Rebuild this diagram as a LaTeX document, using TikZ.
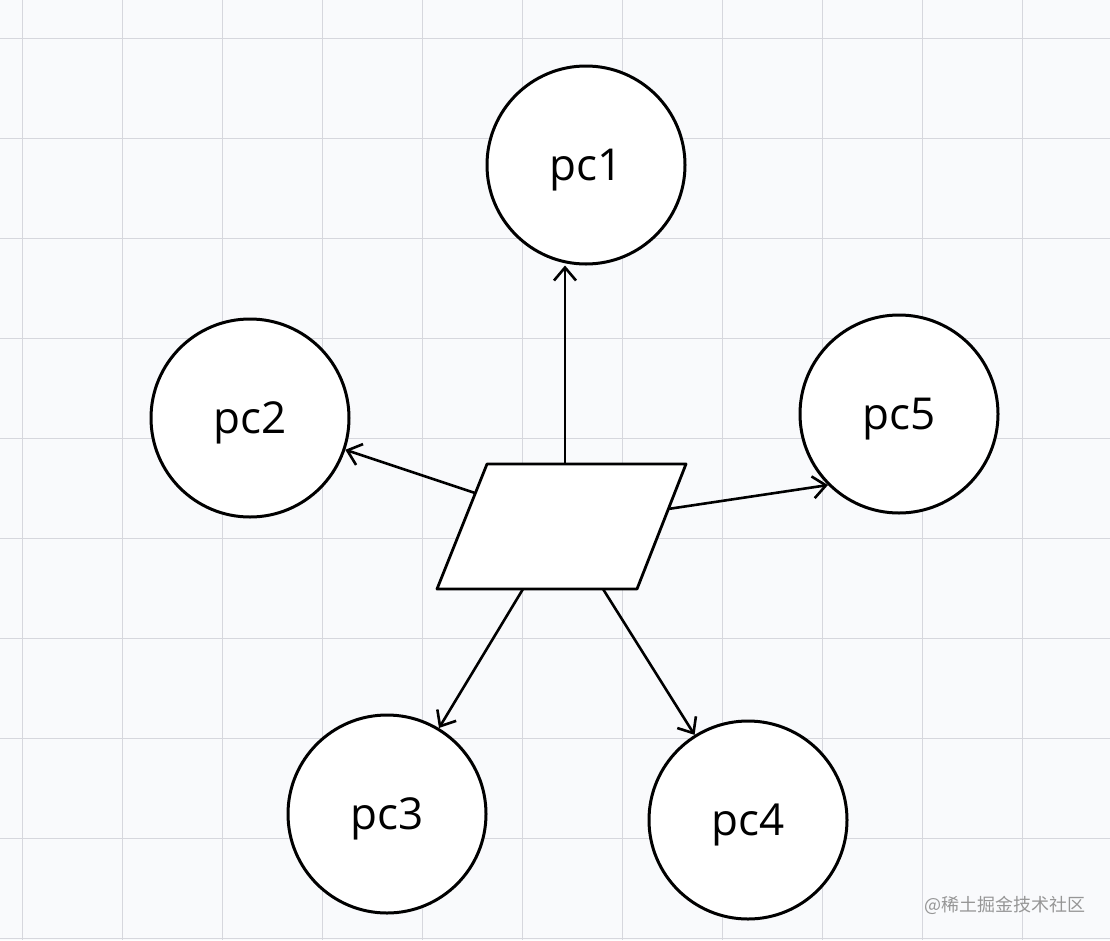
\documentclass[tikz,border=0pt]{standalone}
\usepackage{fontspec}
\setmainfont{Open Sans}
\newfontfamily\cjk{Noto Sans CJK SC}
\usetikzlibrary{arrows.meta}
\definecolor{bgc}{RGB}{249,250,252}
\definecolor{gridc}{RGB}{214,215,221}
\definecolor{wmc}{RGB}{150,150,150}
\tikzset{
  pcnode/.style={circle, draw=black, line width=3pt, fill=white, minimum size=198pt, inner sep=0pt},
  pclabel/.style={font=\fontsize{44}{44}\selectfont, inner sep=0pt},
  conn/.style={line width=2.6pt, -{Straight Barb[length=13pt,width=22pt,line width=2.6pt]}},
  shapeline/.style={line width=2.8pt, line join=round, fill=white}
}
\begin{document}
\begin{tikzpicture}[x=1pt,y=-1pt]
\fill[bgc] (0,0) rectangle (1110,940);
\useasboundingbox (0,0) rectangle (1110,940);
% grid
\foreach \x in {22,122,...,1022} \draw[gridc, line width=1pt] (\x,0) -- (\x,940);
\foreach \y in {38,138,...,938} \draw[gridc, line width=1pt] (0,\y) -- (1110,\y);

% nodes
\node[pcnode] (pc1) at (586,165) {};
\node[pcnode] (pc2) at (250,418) {};
\node[pcnode] (pc5) at (899,414) {};
\node[pcnode] (pc3) at (387,814) {};
\node[pcnode] (pc4) at (748,820) {};
\node[pclabel] (t1) at ([yshift=-5pt]pc1.center) {pc1};
\node[pclabel] (t2) at ([yshift=-5pt]pc2.center) {pc2};
\node[pclabel] (t5) at ([yshift=-5pt]pc5.center) {pc5};
\node[pclabel] (t3) at ([yshift=-5pt]pc3.center) {pc3};
\node[pclabel] (t4) at ([yshift=-5pt]pc4.center) {pc4};

% parallelogram
\coordinate (tl) at (487,464);
\coordinate (tr) at (686,464);
\coordinate (br) at (637,589);
\coordinate (bl) at (437,589);
\draw[shapeline] (tl) -- (tr) -- (br) -- (bl) -- cycle;

\coordinate (s1) at (565,464);
\coordinate (s2) at (475,493);
\coordinate (s5) at (668,509);
\coordinate (s3) at (523,589);
\coordinate (s4) at (603,589);

% connectors
\draw[conn] (s1) -- (s1 |- pc1.south);
\draw[conn] (s2) -- (pc2);
\draw[conn] (s5) -- (pc5.225);
\draw[conn] (s3) -- (pc3);
\draw[conn] (s4) -- (pc4);

% watermark
\node[wmc, font=\cjk\fontsize{18}{18}\selectfont, anchor=west, inner sep=0pt] (wm) at (924,905) {@稀土掘金技术社区};
\end{tikzpicture}
\end{document}
